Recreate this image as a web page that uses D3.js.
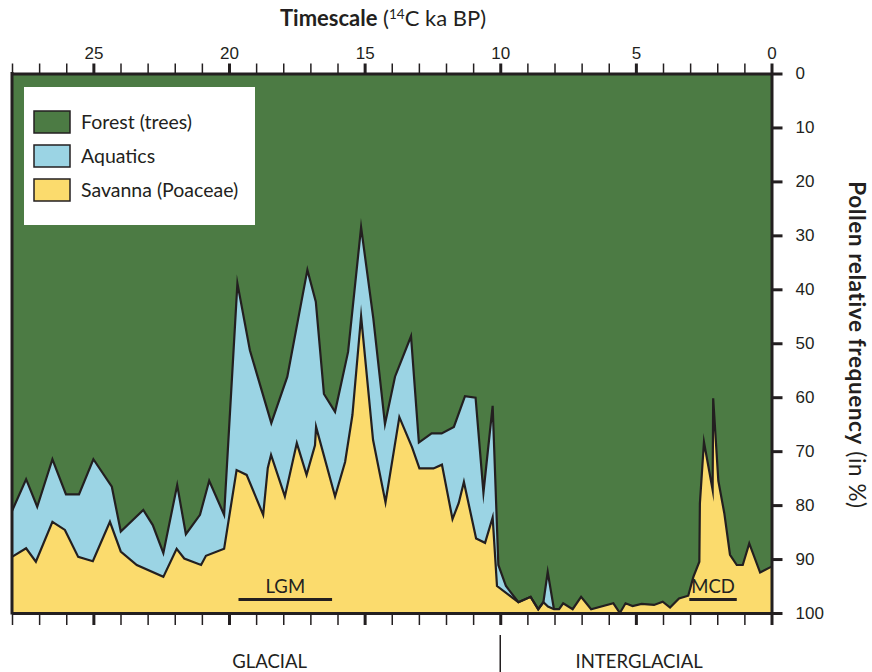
<!DOCTYPE html>
<html>
<head>
<meta charset="utf-8">
<script src="https://cdn.jsdelivr.net/npm/d3@7"></script>
<style>
  body { margin: 0; background: #fff; }
  svg { display: block; font-family: Lato, "Open Sans", sans-serif; }
</style>
</head>
<body>
<svg id="chart" width="872" height="672"></svg>
<script>
// Savanna (Poaceae) pollen, % of total pollen, by age in 14C ka BP
const savannaAge = [28.0, 27.48, 27.12, 26.51, 26.05, 25.56, 25.02, 24.39, 23.99, 23.40,
  22.42, 21.93, 21.65, 21.03, 20.85, 20.18, 19.72, 19.35, 18.74, 18.57,
  18.45, 17.94, 17.50, 17.14, 16.83, 16.79, 16.09, 15.72, 15.45, 15.13,
  14.69, 14.23, 13.72, 13.25, 12.98, 12.46, 12.15, 11.76, 11.53, 11.34,
  10.89, 10.56, 10.28, 10.12, 9.33, 8.88, 8.60, 8.41, 8.24, 8.02,
  7.83, 7.68, 7.33, 7.02, 6.65, 5.83, 5.59, 5.38, 5.12, 4.79,
  4.33, 4.01, 3.74, 3.41, 3.07, 2.88, 2.66, 2.64, 2.49, 2.17,
  2.15, 1.96, 1.74, 1.53, 1.28, 1.06, 0.82, 0.42, 0.0];
const savannaPct = [10.4, 12.0, 9.5, 16.9, 15.4, 10.4, 9.6, 16.9, 11.4, 8.9,
  6.7, 11.9, 10.1, 8.9, 10.6, 11.9, 26.5, 25.6, 18.2, 26.9,
  29.3, 21.6, 31.5, 25.6, 31.1, 34.5, 21.6, 28.0, 36.7, 55.0,
  32.1, 20.5, 36.3, 30.7, 26.8, 26.8, 27.5, 17.4, 20.4, 24.3,
  13.8, 13.0, 17.7, 5.0, 2.0, 3.0, 0.7, 2.0, 1.2, 0.7,
  0.7, 1.8, 0.7, 3.0, 0.7, 1.8, 0.0, 1.8, 1.3, 1.7,
  1.5, 2.1, 1.0, 2.7, 3.2, 6.7, 9.5, 20.3, 31.7, 22.8,
  39.8, 24.5, 18.5, 10.8, 8.9, 8.9, 12.9, 7.5, 8.6];

// Forest (trees) pollen, % of total pollen; aquatics fill the gap down to savanna
const forestAge = [28.0, 27.48, 27.07, 26.51, 26.01, 25.53, 25.00, 24.32, 23.99, 23.16,
  22.81, 22.42, 21.91, 21.59, 21.07, 20.73, 20.18, 19.69, 19.23, 18.44,
  17.85, 17.11, 16.80, 16.50, 16.09, 15.61, 15.13, 14.68, 14.25, 13.88,
  13.29, 13.00, 12.53, 12.16, 11.71, 11.30, 10.91, 10.62, 10.28, 10.07,
  9.79, 9.33, 8.88, 8.60, 8.41, 8.25, 8.02];
const forestPct = [81.1, 75.2, 80.3, 71.5, 78.0, 78.0, 71.5, 76.6, 84.9, 80.9,
  83.7, 88.9, 76.3, 85.4, 81.8, 75.5, 81.8, 38.9, 51.3, 64.8,
  56.2, 36.4, 42.3, 59.4, 62.7, 51.6, 28.5, 45.4, 65.0, 56.2,
  48.7, 68.4, 66.7, 66.7, 65.5, 59.8, 60.1, 77.7, 61.6, 91.1,
  95.0, 98.0, 97.0, 99.3, 98.0, 92.4, 99.3];

const ageTicks = d3.range(0, 29);          // one tick per ka
const ageLabels = [25, 20, 15, 10, 5, 0];
const pctTicks = d3.range(0, 101, 10);

const legendNames = ["Forest (trees)", "Aquatics", "Savanna (Poaceae)"];
const legendColors = ["#4c7b44", "#9bd4e4", "#fbdb6d"];

const periodLabels = ["LGM", "MCD"];
const periodStart = [19.65, 3.03];
const periodEnd = [16.2, 1.28];

const zoneLabels = ["GLACIAL", "INTERGLACIAL"];
const zoneLabelAge = [18.5, 4.88];
const zoneBoundary = 10;

const ink = "#231f20";

const svg = d3.select("#chart");
const x = d3.scaleLinear().domain([28, 0]).range([12, 771.5]);
const y = d3.scaleLinear().domain([0, 100]).range([73.5, 613]);

const savanna = savannaAge.map((a, i) => ({ age: a, v: savannaPct[i] }));
const forest = forestAge.map((a, i) => ({ age: a, v: forestPct[i] }));

// forest fills the whole frame; aquatics and savanna are laid over it from the bottom
svg.append("rect")
  .attr("x", x(28)).attr("y", y(0))
  .attr("width", x(0) - x(28)).attr("height", y(100) - y(0))
  .attr("fill", legendColors[0]);

const aquaArea = d3.area().x(d => x(d.age)).y0(y(100)).y1(d => y(d.v));
const savArea = d3.area().x(d => x(d.age)).y0(y(100)).y1(d => y(100 - d.v));

svg.append("path").datum(forest).attr("d", aquaArea).attr("fill", legendColors[1]);
svg.append("path").datum(savanna).attr("d", savArea).attr("fill", legendColors[2]);

const edge = g => g.attr("fill", "none").attr("stroke", ink)
  .attr("stroke-width", 2.2).attr("stroke-linejoin", "miter").attr("stroke-miterlimit", 12);
svg.append("path").datum(forest)
  .attr("d", d3.line().x(d => x(d.age)).y(d => y(d.v))).call(edge);
svg.append("path").datum(savanna)
  .attr("d", d3.line().x(d => x(d.age)).y(d => y(100 - d.v))).call(edge);

// left frame edge
svg.append("line")
  .attr("x1", x(28)).attr("x2", x(28)).attr("y1", y(0) - 1.5).attr("y2", y(100) + 1.5)
  .attr("stroke", ink).attr("stroke-width", 3);

function styleAxis(g, majorTest) {
  g.select(".domain").attr("stroke", ink).attr("stroke-width", 3);
  g.selectAll(".tick line").attr("stroke", ink)
    .attr("stroke-width", d => majorTest(d) ? 3 : 1.5);
  g.selectAll(".tick text").attr("fill", ink).attr("font-size", 17);
}

// time axis on top
svg.append("g").attr("transform", `translate(0,${y(0)})`)
  .call(d3.axisTop(x).tickValues(ageTicks).tickSize(10).tickSizeOuter(0).tickPadding(5)
    .tickFormat(d => ageLabels.includes(d) ? d : ""))
  .call(g => styleAxis(g, d => d % 5 === 0));

// matching ticks along the bottom edge
svg.append("g").attr("transform", `translate(0,${y(100)})`)
  .call(d3.axisBottom(x).tickValues(ageTicks).tickSize(12).tickSizeOuter(0).tickFormat(""))
  .call(g => styleAxis(g, d => d % 5 === 0));

// percentage axis on the right
svg.append("g").attr("transform", `translate(${x(0)},0)`)
  .call(d3.axisRight(y).tickValues(pctTicks).tickSize(11).tickSizeOuter(0).tickPadding(13))
  .call(g => styleAxis(g, () => true))
  .call(g => g.selectAll(".tick text").attr("font-size", 17));

// axis titles
const title = svg.append("text").attr("x", 383).attr("y", 26)
  .attr("text-anchor", "middle").attr("fill", ink).attr("font-size", 22);
title.append("tspan").attr("font-weight", 700).text("Timescale");
title.append("tspan").text(" (");
title.append("tspan").attr("font-size", 13.5).attr("dy", -7).text("14");
title.append("tspan").attr("dy", 7).text("C ka BP)");

const ytitle = svg.append("text")
  .attr("transform", "translate(849,345) rotate(90)")
  .attr("text-anchor", "middle").attr("fill", ink).attr("font-size", 22.5)
  .attr("letter-spacing", 0.6);
ytitle.append("tspan").attr("font-weight", 700).text("Pollen relative frequency");
ytitle.append("tspan").text(" (in %)");

// legend
const legend = svg.append("g");
legend.append("rect").attr("x", 24).attr("y", 87).attr("width", 231).attr("height", 138)
  .attr("fill", "#fff");
legendNames.forEach((name, i) => {
  const ly = 111 + i * 34;
  legend.append("rect").attr("x", 34).attr("y", ly).attr("width", 36).attr("height", 22)
    .attr("fill", legendColors[i]).attr("stroke", ink).attr("stroke-width", 1.5);
  legend.append("text").attr("x", 81).attr("y", ly + 18)
    .attr("font-size", 19.5).attr("fill", ink).text(name);
});

// LGM and MCD markers
periodLabels.forEach((lab, i) => {
  svg.append("line")
    .attr("x1", x(periodStart[i])).attr("x2", x(periodEnd[i]))
    .attr("y1", 599.5).attr("y2", 599.5)
    .attr("stroke", ink).attr("stroke-width", 3);
  svg.append("text")
    .attr("x", (x(periodStart[i]) + x(periodEnd[i])) / 2).attr("y", 593)
    .attr("text-anchor", "middle").attr("font-size", 18.5).attr("fill", ink).text(lab);
});

// glacial / interglacial division
svg.append("line")
  .attr("x1", x(zoneBoundary)).attr("x2", x(zoneBoundary)).attr("y1", 635).attr("y2", 672)
  .attr("stroke", ink).attr("stroke-width", 1.5);
zoneLabels.forEach((lab, i) => {
  svg.append("text").attr("x", x(zoneLabelAge[i])).attr("y", 668)
    .attr("text-anchor", "middle").attr("font-size", 18.5).attr("fill", ink).text(lab);
});
</script>
</body>
</html>
